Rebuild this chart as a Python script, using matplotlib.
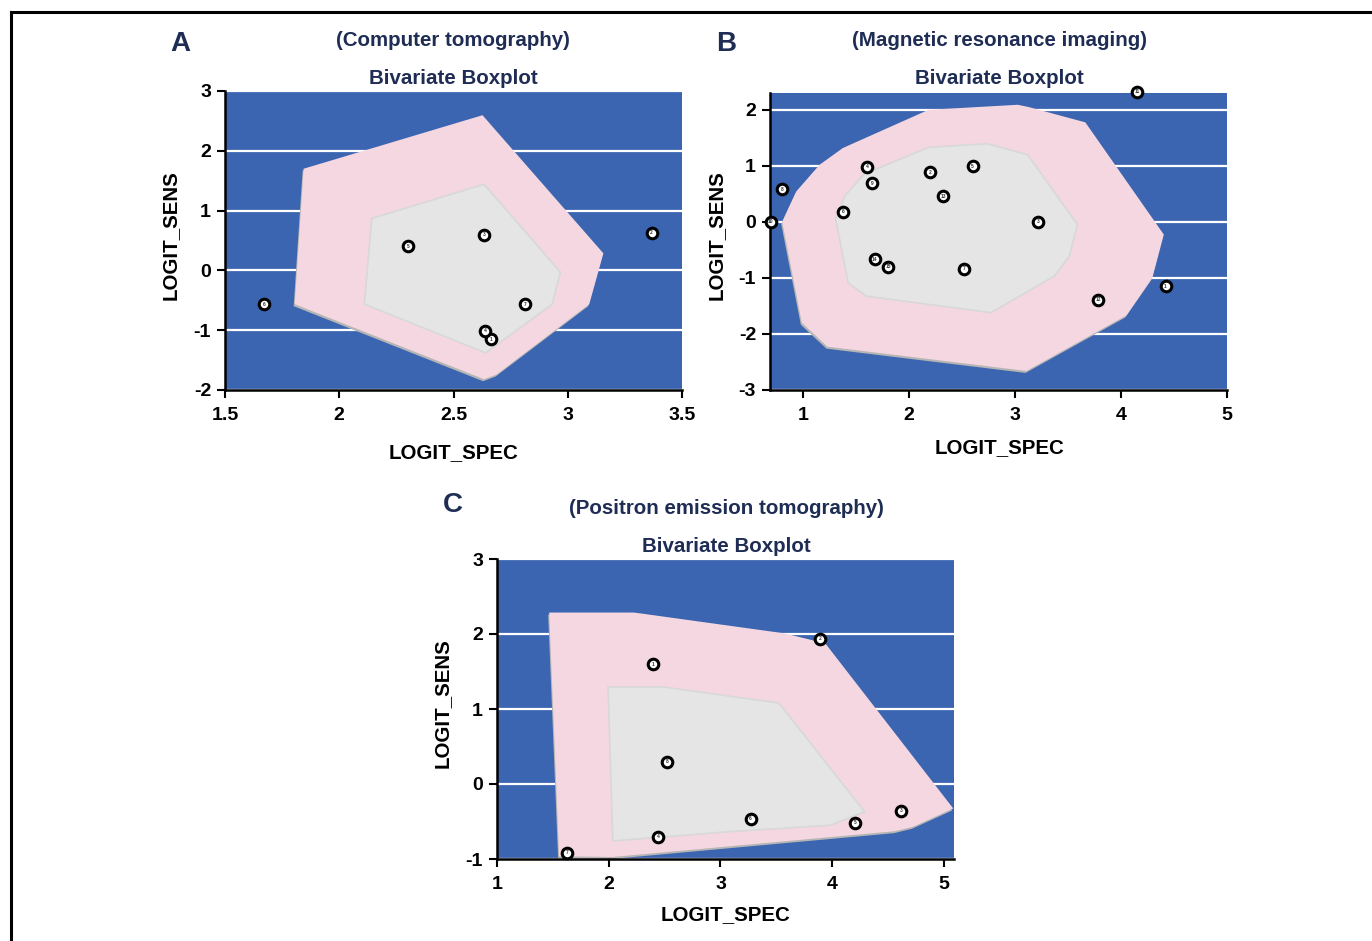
import matplotlib
matplotlib.use('Agg')
import matplotlib.pyplot as plt
import matplotlib.transforms as mtransforms
from matplotlib.patches import Polygon
from matplotlib.lines import Line2D

plt.rcParams['font.family'] = ['Liberation Sans', 'DejaVu Sans']
plt.rcParams['font.weight'] = 'bold'
plt.rcParams['axes.unicode_minus'] = False

# ---- data ----
# A: computer tomography
a_spec = [2.665, 3.367, 2.634, 2.638, 2.303, 1.672, 2.813]
a_sens = [-1.15, 0.63, 0.60, -1.01, 0.40, -0.57, -0.565]
a_ids = ['1', '2', '3', '4', '5', '6', '7']
a_outer_x = [1.844, 2.627, 3.156, 3.094, 2.689, 2.634, 1.805]
a_outer_y = [1.70, 2.595, 0.285, -0.565, -1.74, -1.82, -0.565]
a_inner_x = [2.142, 2.634, 2.968, 2.932, 2.641, 2.110]
a_inner_y = [0.87, 1.44, -0.03, -0.565, -1.38, -0.565]

# B: magnetic resonance imaging
b_spec = [4.42, 2.20, 3.22, 1.605, 2.60, 1.383, 2.52, 0.805, 1.656, 0.697, 4.15, 3.785, 2.322, 1.676, 1.804]
b_sens = [-1.146, 0.89, 0.0, 0.98, 0.99, 0.18, -0.84, 0.58, 0.69, 0.0, 2.32, -1.39, 0.46, -0.665, -0.80]
b_ids = [str(i) for i in range(1, 16)]
b_outer_x = [0.805, 0.939, 1.158, 1.377, 2.185, 3.027, 3.128, 3.664, 4.404, 4.296, 4.051, 3.109, 1.232, 0.990]
b_outer_y = [0.0, 0.546, 1.02, 1.318, 2.0, 2.09, 2.05, 1.776, -0.226, -0.998, -1.669, -2.66, -2.227, -1.80]
b_inner_x = [1.309, 1.394, 1.579, 2.185, 2.739, 3.119, 3.590, 3.513, 3.371, 2.773, 1.595, 1.427]
b_inner_y = [0.053, 0.457, 0.855, 1.33, 1.395, 1.20, -0.048, -0.612, -0.968, -1.62, -1.324, -1.087]

# C: positron emission tomography
c_spec = [2.397, 3.89, 4.616, 2.442, 4.207, 3.27, 1.63, 2.519]
c_sens = [1.60, 1.94, -0.357, -0.70, -0.52, -0.46, -0.92, 0.30]
c_ids = ['1', '2', '3', '4', '5', '6', '7', '8']
c_outer_x = [1.467, 2.228, 3.571, 3.938, 5.083, 4.722, 4.562, 2.036, 1.556]
c_outer_y = [2.286, 2.286, 2.009, 1.875, -0.326, -0.571, -0.629, -0.973, -0.964]
c_inner_x = [1.994, 2.484, 3.523, 4.290, 3.986, 3.059, 2.036]
c_inner_y = [1.295, 1.295, 1.08, -0.37, -0.549, -0.638, -0.759]

BLUE = '#3b65b0'
PINK = '#f5d7e1'
GREY = '#e5e5e5'
NAVY = '#1f2d55'

W, H = 1372, 941
fig = plt.figure(figsize=(W / 100, H / 100), dpi=100)


def px(x, y):
    return x / W, 1 - y / H


def panel(rect, xlim, ylim, xticks, yticks, xlabels, spec, sens, ids,
          ox, oy, ix, iy):
    ax = fig.add_axes(rect)
    ax.set_facecolor(BLUE)
    ax.set_xlim(*xlim)
    ax.set_ylim(*ylim)
    ax.set_xticks(xticks)
    ax.set_xticklabels(xlabels)
    ax.set_yticks(yticks)
    ax.yaxis.grid(True, color='white', lw=1.6)
    ax.set_axisbelow(True)
    for s in ['top', 'right']:
        ax.spines[s].set_visible(False)
    for s in ['left', 'bottom']:
        ax.spines[s].set_linewidth(1.8)
    ax.tick_params(direction='out', length=6, width=1.5, labelsize=14)
    ax.tick_params(axis='x', pad=6)
    ax.tick_params(axis='y', pad=4)
    shadow = mtransforms.offset_copy(ax.transData, fig=fig, x=-1, y=-2, units='dots')
    ax.add_patch(Polygon(list(zip(ox, oy)), closed=True, fc='#b5b5b5', ec='none',
                         transform=shadow, zorder=1))
    ax.add_patch(Polygon(list(zip(ox, oy)), closed=True, fc=PINK, ec='none', zorder=2))
    ax.add_patch(Polygon(list(zip(ix, iy)), closed=True, fc=GREY, ec='#d8d8d8',
                         lw=1.2, zorder=3))
    ax.scatter(spec, sens, s=58, facecolor='white', edgecolor='black', lw=2.2,
               zorder=5, clip_on=False)
    for x, y, t in zip(spec, sens, ids):
        ax.text(x, y, t, fontsize=3.5, ha='center', va='center', color='#333333',
                zorder=6, clip_on=False)
    return ax


def rect(left, right, top, bottom):
    return [left / W, 1 - bottom / H, (right - left) / W, (bottom - top) / H]


panel(rect(225, 682, 91, 390), (1.5, 3.5), (-2, 3), [1.5, 2, 2.5, 3, 3.5],
      range(-2, 4), ['1.5', '2', '2.5', '3', '3.5'],
      a_spec, a_sens, a_ids, a_outer_x, a_outer_y, a_inner_x, a_inner_y)
panel(rect(770, 1227, 93, 390), (0.69, 5), (-3, 2.3), [1, 2, 3, 4, 5],
      range(-3, 3), ['1', '2', '3', '4', '5'],
      b_spec, b_sens, b_ids, b_outer_x, b_outer_y, b_inner_x, b_inner_y)
panel(rect(497, 954, 559, 859), (1, 5.09), (-1, 3), [1, 2, 3, 4, 5],
      range(-1, 4), ['1', '2', '3', '4', '5'],
      c_spec, c_sens, c_ids, c_outer_x, c_outer_y, c_inner_x, c_inner_y)

# titles and labels
texts = [
    ((180, 44), 'A', 20, NAVY, 0),
    ((453, 41), '(Computer tomography)', 14.8, NAVY, 0),
    ((453, 79), 'Bivariate Boxplot', 14.8, NAVY, 0),
    ((453, 453), 'LOGIT_SPEC', 14.8, 'black', 0),
    ((170, 235), 'LOGIT_SENS', 14.8, 'black', 90),
    ((726, 44), 'B', 20, NAVY, 0),
    ((999, 41), '(Magnetic resonance imaging)', 14.8, NAVY, 0),
    ((999, 79), 'Bivariate Boxplot', 14.8, NAVY, 0),
    ((999, 448), 'LOGIT_SPEC', 14.8, 'black', 0),
    ((716, 235), 'LOGIT_SENS', 14.8, 'black', 90),
    ((453, 505), 'C', 20, NAVY, 0),
    ((726, 508), '(Positron emission tomography)', 14.8, NAVY, 0),
    ((726, 547), 'Bivariate Boxplot', 14.8, NAVY, 0),
    ((726, 915), 'LOGIT_SPEC', 14.8, 'black', 0),
    ((442, 703), 'LOGIT_SENS', 14.8, 'black', 90),
]
for (x, y), t, fs, c, rot in texts:
    fig.text(*px(x, y), t, fontsize=fs, color=c, ha='center', va='center',
             rotation=rot, fontweight='bold')

# outer frame (top and left edges)
fig.add_artist(Line2D([11 / W, 1], [1 - 12 / H, 1 - 12 / H], color='black', lw=2.2,
                      transform=fig.transFigure))
fig.add_artist(Line2D([11 / W, 11 / W], [0, 1 - 12 / H], color='black', lw=2.2,
                      transform=fig.transFigure))

fig.savefig('out.png', dpi=100)
